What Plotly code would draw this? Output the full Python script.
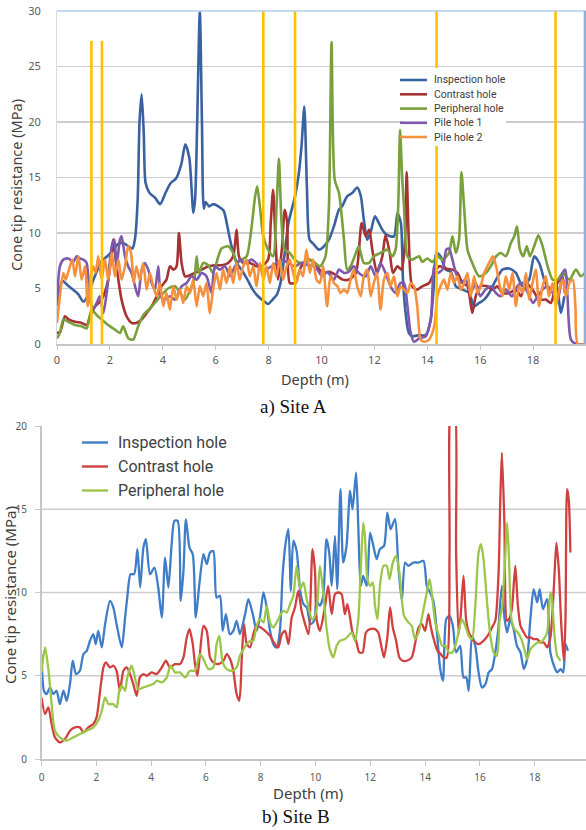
import plotly.graph_objects as go

W, H = 586, 830

# ---------------- Site A (depth m, cone tip resistance MPa) ----------------
a_inspection = [(0.0,3.5),(0.1,4.8),(0.2,5.7),(0.4,5.3),(0.6,4.9),(0.8,4.5),(1.0,3.8),(1.15,4.3),(1.3,5.3),
    (1.5,6.5),(1.7,7.5),(1.9,7.9),(2.1,8.4),(2.3,9.0),(2.5,9.1),(2.7,8.8),(2.85,8.6),(2.95,9.5),(3.05,13),
    (3.12,20),(3.2,22.5),(3.28,19),(3.35,14.5),(3.5,13.6),(3.7,13.2),(3.9,12.6),(4.1,13.6),(4.3,14.5),
    (4.5,14.9),(4.7,16.2),(4.85,18.0),(5.0,16.8),(5.1,13.5),(5.15,11.8),(5.22,13),(5.3,20),(5.4,30),
    (5.48,20),(5.55,12.2),(5.62,12.8),(5.75,12.4),(5.9,12.6),(6.1,12.4),(6.3,12.0),(6.45,10.5),(6.6,8.8),
    (6.8,7.3),(7.0,6.6),(7.2,5.8),(7.4,4.9),(7.6,4.3),(7.8,3.9),(7.98,3.6),(8.15,4.0),(8.3,4.4),(8.45,5.5),
    (8.6,8.0),(8.75,10.9),(9.0,13.3),(9.15,15.5),(9.25,18),(9.35,21.4),(9.45,14),(9.55,9.4),(9.7,9.0),
    (9.9,8.5),(10.05,8.7),(10.28,9.4),(10.47,10.6),(10.66,12.1),(10.78,12.4),(10.97,13.3),(11.16,13.6),
    (11.35,14.1),(11.48,13.4),(11.6,11.2),(11.73,9.4),(11.86,10.1),(12.02,11.5),(12.17,10.9),(12.3,10.3),
    (12.49,9.8),(12.74,9.7),(12.87,11.8),(13.0,10.9),(13.08,5.8),(13.18,2.8),(13.3,1.0),(13.43,0.7),
    (13.69,0.8),(13.94,0.8),(14.13,2.2),(14.26,5.8),(14.34,8.2),(14.5,7.9),(14.7,6.7),(14.89,6.5),
    (15.08,5.2),(15.33,4.9),(15.58,4.6),(15.77,3.4),(15.96,3.7),(16.15,4.0),(16.34,4.6),(16.6,5.8),
    (16.84,6.7),(17.1,6.8),(17.35,6.4),(17.6,5.2),(17.85,5.8),(18.04,7.9),(18.23,7.3),(18.42,5.8),
    (18.6,4.9),(18.86,5.5),(19.05,2.8),(19.18,4.3)]

a_contrast = [(0.0,1.0),(0.12,1.1),(0.3,2.5),(0.45,2.2),(0.68,2.0),(0.93,1.9),(1.12,1.7),(1.25,2.5),(1.44,3.4),
    (1.69,4.0),(1.94,5.8),(2.13,9.4),(2.2,8.0),(2.32,5.8),(2.44,4.0),(2.63,2.5),(2.82,1.9),(3.0,1.9),
    (3.2,2.2),(3.39,2.8),(3.58,3.4),(3.77,4.3),(3.95,5.2),(4.14,5.8),(4.27,7.0),(4.4,6.7),(4.52,7.0),
    (4.61,10.0),(4.71,7.3),(4.84,6.1),(5.03,6.2),(5.21,6.4),(5.47,6.7),(5.72,7.0),(5.97,7.1),(6.22,7.1),
    (6.47,7.3),(6.66,7.9),(6.79,10.3),(6.88,7.9),(7.04,7.3),(7.29,7.3),(7.54,7.0),(7.73,7.0),(7.98,7.6),
    (8.08,10.9),(8.17,13.9),(8.26,9.4),(8.36,5.8),(8.5,8.5),(8.61,12.1),(8.7,11.0),(8.8,5.5),(8.99,5.5),
    (9.24,7.0),(9.5,7.6),(9.75,7.3),(10.03,6.4),(10.3,6.5),(10.55,6.2),(10.8,5.8),(11.03,5.8),(11.3,6.4),
    (11.52,10.9),(11.67,9.7),(11.8,10.3),(11.92,8.5),(12.1,6.4),(12.3,7.9),(12.42,9.8),(12.58,8.2),
    (12.7,6.4),(12.87,7.0),(13.03,6.7),(13.16,9.4),(13.22,15.5),(13.3,9.4),(13.43,5.2),(13.62,4.9),
    (13.81,5.2),(14.07,5.5),(14.26,6.4),(14.45,7.0),(14.7,6.8),(14.95,6.7),(15.14,6.4),(15.33,5.5),
    (15.52,5.2),(15.7,2.8),(15.83,4.3),(16.0,5.2),(16.27,5.2),(16.46,4.9),(16.65,5.2),(16.84,4.6),
    (17.1,4.6),(17.35,4.9),(17.54,4.3),(17.73,5.5),(17.98,4.9),(18.23,4.0),(18.48,4.0),(18.67,3.7),
    (18.86,5.2),(19.1,6.1),(19.2,4.6)]

a_peripheral = [(0.0,0.5),(0.11,1.0),(0.24,2.2),(0.43,2.0),(0.68,1.7),(0.93,1.6),(1.12,1.4),(1.31,3.1),
    (1.5,2.6),(1.69,2.2),(1.94,1.7),(2.19,1.3),(2.38,1.0),(2.5,1.6),(2.7,0.5),(2.88,0.4),(3.07,1.6),
    (3.26,2.6),(3.51,3.2),(3.7,3.7),(3.95,4.4),(4.2,5.0),(4.46,5.2),(4.65,4.6),(4.84,4.0),(5.09,5.2),
    (5.2,6.0),(5.28,7.9),(5.36,6.4),(5.53,7.3),(5.72,7.1),(5.9,6.4),(6.1,7.9),(6.22,8.6),(6.47,8.8),
    (6.66,8.2),(6.79,7.3),(6.98,7.6),(7.17,7.9),(7.36,10.6),(7.49,13.3),(7.57,14.2),(7.67,12.4),(7.8,9.7),
    (7.98,8.5),(8.17,7.9),(8.3,12.4),(8.39,16.7),(8.49,10.9),(8.61,8.5),(8.8,8.2),(8.99,7.6),(9.24,7.3),
    (9.5,7.6),(9.75,7.3),(9.95,7.0),(10.15,7.9),(10.28,12.4),(10.38,27.2),(10.5,14.8),(10.66,13.6),
    (10.85,9.4),(10.97,6.7),(11.1,7.0),(11.3,8.2),(11.41,8.8),(11.6,7.3),(11.8,7.3),(11.98,7.9),
    (12.23,8.2),(12.49,8.5),(12.68,7.9),(12.8,8.5),(12.9,12.4),(12.97,19.3),(13.05,15),(13.12,12.4),
    (13.25,7.9),(13.43,7.6),(13.69,7.9),(13.81,7.4),(14.0,7.7),(14.19,7.4),(14.38,7.9),(14.57,7.6),
    (14.82,8.2),(14.95,9.7),(15.08,8.2),(15.2,9.4),(15.29,15.5),(15.39,12.4),(15.52,8.5),(15.7,7.3),
    (15.96,6.1),(16.21,6.4),(16.4,7.0),(16.6,7.9),(16.78,8.2),(16.97,7.9),(17.16,9.1),(17.29,9.7),
    (17.39,10.6),(17.5,8.5),(17.63,7.9),(17.76,8.8),(17.88,7.9),(18.04,8.8),(18.2,9.8),(18.36,8.8),
    (18.55,7.0),(18.74,5.8),(18.93,5.8),(19.12,6.4),(19.37,5.8),(19.62,6.7),(19.8,6.1),(20.0,6.5)]

a_pile1 = [(0.0,3.4),(0.11,7.0),(0.24,7.6),(0.43,7.7),(0.62,7.4),(0.74,7.9),(0.87,7.7),(1.0,7.6),(1.12,7.3),
    (1.25,4.0),(1.37,3.1),(1.5,3.7),(1.62,4.3),(1.75,2.8),(1.88,4.6),(2.07,8.8),(2.17,9.4),(2.25,7.0),
    (2.38,9.4),(2.44,9.7),(2.57,7.9),(2.69,7.0),(2.82,6.4),(2.95,5.2),(3.07,4.3),(3.2,6.7),(3.32,7.3),
    (3.45,6.7),(3.58,5.5),(3.7,4.9),(3.83,7.0),(3.93,4.3),(4.08,4.0),(4.27,4.3),(4.46,4.0),(4.71,5.2),
    (4.9,5.5),(5.09,6.1),(5.28,5.8),(5.47,6.4),(5.65,6.1),(5.84,4.6),(5.97,7.0),(6.16,6.7),(6.35,7.0),
    (6.54,6.1),(6.73,7.0),(6.92,7.6),(7.1,7.3),(7.36,7.6),(7.61,7.1),(7.86,6.7),(8.11,7.0),(8.3,7.3),
    (8.49,7.6),(8.74,7.3),(8.99,7.0),(9.24,7.3),(9.5,7.1),(9.75,7.0),(10.03,6.1),(10.22,6.5),(10.47,5.8),
    (10.66,6.7),(10.85,6.4),(11.03,6.5),(11.22,7.0),(11.41,6.4),(11.67,6.1),(11.86,7.0),(12.05,6.1),
    (12.23,7.3),(12.42,6.4),(12.61,5.2),(12.8,4.6),(12.99,5.5),(13.12,5.5),(13.25,3.4),(13.37,1.0),
    (13.5,0.2),(13.69,0.5),(13.94,0.7),(14.13,2.2),(14.26,7.0),(14.38,6.4),(14.57,6.7),(14.72,8.5),
    (14.82,8.6),(14.95,7.6),(15.08,6.4),(15.27,5.5),(15.45,5.8),(15.64,4.6),(15.83,5.5),(16.0,4.3),
    (16.2,4.9),(16.4,5.2),(16.59,4.6),(16.78,4.3),(16.97,4.9),(17.2,4.3),(17.4,5.2),(17.6,5.5),(17.8,4.6),
    (18.0,3.7),(18.17,4.3),(18.36,4.9),(18.55,5.2),(18.74,4.6),(18.93,4.0),(19.12,6.4),(19.22,6.7),
    (19.3,4.3),(19.43,0.4),(19.62,0.0),(20.0,0.0)]

a_pile2 = [(0.0,1.9),(0.11,4.3),(0.24,6.4),(0.33,5.8),(0.45,6.7),(0.58,7.6),(0.68,6.1),(0.81,7.9),(0.93,5.8),
    (1.06,7.0),(1.16,3.4),(1.26,5.8),(1.37,7.0),(1.46,6.4),(1.56,7.9),(1.69,5.8),(1.81,7.6),(1.94,5.8),
    (2.07,8.2),(2.19,6.1),(2.32,7.6),(2.44,5.8),(2.57,7.0),(2.69,8.8),(2.8,8.2),(2.9,5.5),(3.0,7.0),
    (3.13,5.8),(3.26,7.3),(3.39,4.9),(3.51,6.4),(3.64,5.2),(3.77,4.3),(3.89,5.5),(4.02,3.4),(4.14,4.6),
    (4.27,3.1),(4.4,5.2),(4.52,4.0),(4.65,4.9),(4.77,3.7),(4.9,5.2),(5.03,4.6),(5.15,5.8),(5.28,3.4),
    (5.4,5.2),(5.53,4.3),(5.65,5.5),(5.78,2.8),(5.9,4.9),(6.03,6.4),(6.16,4.9),(6.28,6.7),(6.41,5.5),
    (6.54,7.0),(6.66,5.5),(6.79,7.3),(6.91,5.8),(7.04,7.0),(7.17,7.6),(7.29,6.1),(7.42,7.0),(7.54,5.2),
    (7.67,7.3),(7.8,5.8),(7.92,7.0),(8.05,5.5),(8.17,7.3),(8.3,6.1),(8.42,7.6),(8.55,5.8),(8.68,7.0),
    (8.8,7.6),(8.93,6.4),(9.05,5.5),(9.18,6.7),(9.3,6.1),(9.43,8.5),(9.56,6.4),(9.68,7.6),(9.81,5.8),
    (9.94,5.5),(10.06,7.0),(10.21,3.4),(10.34,6.1),(10.47,5.5),(10.6,5.2),(10.72,4.6),(10.85,4.9),
    (10.97,4.6),(11.1,5.8),(11.22,6.7),(11.35,5.2),(11.48,4.3),(11.6,6.1),(11.73,6.7),(11.86,4.3),
    (11.98,5.5),(12.1,6.4),(12.23,3.1),(12.36,5.8),(12.49,6.4),(12.61,5.2),(12.74,6.1),(12.87,4.3),
    (12.99,5.2),(13.12,4.9),(13.25,4.6),(13.37,5.5),(13.5,5.2),(13.62,3.4),(13.75,0.4),(13.88,0.2),
    (14.07,0.4),(14.26,1.6),(14.38,4.3),(14.5,5.2),(14.63,5.8),(14.76,4.9),(14.89,6.4),(15.01,5.5),
    (15.14,6.1),(15.27,4.9),(15.39,5.5),(15.52,6.4),(15.64,4.3),(15.77,6.1),(15.9,4.6),(16.02,5.2),
    (16.15,6.4),(16.27,7.0),(16.4,7.6),(16.48,7.9),(16.6,7.0),(16.72,5.5),(16.84,4.3),(16.97,6.1),
    (17.1,4.9),(17.22,6.4),(17.35,3.4),(17.47,5.2),(17.6,4.6),(17.73,6.4),(17.85,4.0),(17.98,5.5),
    (18.1,6.7),(18.23,3.4),(18.36,5.2),(18.48,6.1),(18.6,4.3),(18.74,5.5),(18.86,3.4),(18.99,4.9),
    (19.12,5.8),(19.24,4.3),(19.37,5.5),(19.5,5.8),(19.6,3.4),(19.69,0.0),(20.0,0.0)]

# vertical marker lines (depth, top value)
marker_depth = [1.3, 1.7, 7.8, 9.0, 14.35, 18.85]
marker_top = [27.3, 27.3, 30, 30, 30, 30]

# ---------------- Site B ----------------
b_inspection = [(0.0,6.3),(0.09,4.1),(0.19,3.9),(0.31,4.3),(0.43,3.9),(0.55,4.1),(0.67,3.3),(0.8,4.1),(0.92,3.5),
    (1.04,4.5),(1.14,5.9),(1.26,5.1),(1.4,5.3),(1.53,6.3),(1.65,6.5),(1.77,7.1),(1.89,7.5),(1.98,6.9),
    (2.07,7.7),(2.2,6.7),(2.32,8.1),(2.5,9.5),(2.62,9.1),(2.74,8.1),(2.93,6.7),(3.05,8.5),(3.13,9.7),
    (3.25,11.1),(3.38,11.1),(3.5,12.6),(3.6,10.3),(3.72,12.7),(3.81,13.2),(3.96,11.1),(4.12,11.5),
    (4.26,10.3),(4.39,8.5),(4.51,12.1),(4.63,10.3),(4.75,12.9),(4.85,14.3),(4.97,14.3),(5.08,9.5),
    (5.18,11.3),(5.27,14.4),(5.4,12.7),(5.52,12.3),(5.63,8.5),(5.76,10.5),(5.91,12.3),(6.03,11.7),
    (6.15,12.4),(6.27,12.5),(6.39,9.7),(6.51,9.8),(6.61,7.7),(6.73,8.7),(6.87,7.5),(7.0,7.7),(7.12,8.3),
    (7.24,7.5),(7.43,8.7),(7.55,9.6),(7.71,8.7),(7.85,7.7),(7.97,8.5),(8.1,10.0),(8.22,9.1),(8.34,7.7),
    (8.46,6.9),(8.58,6.7),(8.7,7.7),(8.8,11.1),(8.92,13.1),(9.01,13.8),(9.1,10.1),(9.19,13.1),(9.31,12.5),
    (9.44,10.1),(9.56,9.3),(9.68,9.1),(9.82,8.1),(9.95,8.3),(10.04,9.5),(10.16,9.2),(10.28,9.8),
    (10.4,13.2),(10.5,12.4),(10.59,10.4),(10.71,13.4),(10.79,10.2),(10.91,16.2),(11.01,11.8),(11.13,12.8),
    (11.26,16.1),(11.35,15.0),(11.48,17.2),(11.56,14.0),(11.65,10.4),(11.74,11.0),(11.87,10.4),
    (11.99,13.6),(12.11,12.8),(12.23,12.0),(12.35,12.6),(12.5,12.8),(12.62,14.8),(12.74,13.8),(12.9,14.4),
    (13.02,11.6),(13.15,9.5),(13.27,11.8),(13.39,11.6),(13.57,11.8),(13.76,11.8),(13.94,11.9),(14.06,10.4),
    (14.18,10.0),(14.3,9.5),(14.43,7.6),(14.55,5.4),(14.65,4.7),(14.77,8.4),(14.89,8.6),(15.01,8.0),
    (15.13,6.4),(15.28,6.8),(15.4,4.9),(15.5,4.9),(15.59,4.1),(15.71,7.4),(15.83,6.8),(15.95,5.2),
    (16.07,4.3),(16.2,4.5),(16.32,5.2),(16.44,5.4),(16.56,6.4),(16.68,8.0),(16.8,10.4),(16.9,8.4),
    (16.99,7.6),(17.11,8.4),(17.23,7.8),(17.35,6.8),(17.48,6.4),(17.6,5.4),(17.72,6.0),(17.84,8.4),
    (17.96,10.2),(18.09,9.4),(18.18,10.2),(18.3,9.0),(18.45,9.6),(18.57,6.4),(18.7,5.6),(18.82,5.2),
    (18.94,5.4),(19.04,5.2),(19.12,6.9),(19.21,6.5)]

b_contrast = [(0.0,3.7),(0.13,2.7),(0.25,3.1),(0.37,2.1),(0.49,1.3),(0.67,1.0),(0.86,1.2),(1.04,1.7),(1.22,1.9),
    (1.4,1.9),(1.53,1.6),(1.71,1.9),(1.89,2.1),(2.01,2.5),(2.14,4.1),(2.26,5.5),(2.35,5.8),(2.5,5.5),
    (2.62,5.6),(2.74,5.3),(2.86,4.1),(2.99,5.3),(3.11,5.5),(3.23,5.1),(3.35,4.5),(3.47,3.8),(3.59,4.9),
    (3.72,5.1),(3.84,5.0),(4.02,5.2),(4.2,5.1),(4.39,5.5),(4.54,5.9),(4.69,5.5),(4.87,5.7),(5.05,5.7),
    (5.18,6.1),(5.3,7.3),(5.4,7.8),(5.52,6.9),(5.6,5.7),(5.69,5.0),(5.78,6.3),(5.91,8.0),(6.03,7.7),
    (6.15,6.1),(6.27,5.8),(6.45,5.7),(6.64,5.9),(6.76,6.3),(6.88,6.0),(7.0,5.3),(7.12,3.9),(7.22,3.5),
    (7.31,6.1),(7.39,8.1),(7.49,6.9),(7.61,6.7),(7.73,7.5),(7.85,8.0),(8.0,7.9),(8.16,7.7),(8.34,7.4),
    (8.52,6.9),(8.64,6.7),(8.77,7.5),(8.89,7.7),(9.01,6.9),(9.13,8.5),(9.25,9.1),(9.37,10.1),(9.49,8.9),
    (9.62,8.1),(9.74,7.5),(9.89,12.6),(9.98,11.3),(10.04,8.4),(10.16,7.7),(10.34,9.1),(10.46,10.4),
    (10.59,8.7),(10.71,9.9),(10.83,10.0),(10.95,9.9),(11.07,8.7),(11.16,9.3),(11.26,8.5),(11.35,7.6),
    (11.48,7.1),(11.6,6.4),(11.72,6.4),(11.84,7.6),(11.99,7.8),(12.17,7.8),(12.29,7.6),(12.41,6.7),
    (12.5,6.1),(12.62,7.3),(12.72,9.1),(12.82,7.9),(12.94,7.1),(13.06,6.1),(13.18,5.9),(13.33,5.9),
    (13.51,6.1),(13.63,6.9),(13.76,7.9),(13.88,8.1),(14.0,7.7),(14.12,8.7),(14.21,7.9),(14.33,7.1),
    (14.45,6.5),(14.57,6.3),(14.67,6.1),(14.79,6.1),(14.89,12.4),(14.96,21.5),(15.06,21.5),(15.13,12.4),
    (15.22,7.5),(15.3,8.7),(15.4,11.0),(15.5,8.3),(15.62,7.5),(15.77,7.1),(15.95,6.9),(16.13,7.1),
    (16.32,7.5),(16.44,7.9),(16.56,8.3),(16.68,11.2),(16.74,15.4),(16.8,18.4),(16.89,14.3),(16.99,8.3),
    (17.09,8.5),(17.17,9.1),(17.29,11.6),(17.38,9.3),(17.48,8.0),(17.6,7.6),(17.72,7.3),(17.84,7.3),
    (17.96,7.2),(18.09,7.2),(18.21,7.0),(18.33,7.0),(18.45,6.7),(18.57,7.3),(18.7,10.4),(18.79,13.0),
    (18.88,11.3),(18.96,8.3),(19.06,5.9),(19.12,8.3),(19.18,16.2),(19.24,15.6),(19.3,12.4)]

b_peripheral = [(0.0,5.2),(0.13,6.7),(0.25,5.4),(0.37,3.3),(0.49,1.7),(0.67,1.3),(0.92,1.1),(1.16,1.3),(1.4,1.5),
    (1.65,1.7),(1.89,1.9),(2.07,2.3),(2.2,2.9),(2.32,3.7),(2.44,3.3),(2.62,3.3),(2.74,3.1),(2.84,4.1),
    (2.93,4.4),(3.05,4.1),(3.13,4.9),(3.29,5.6),(3.41,4.9),(3.53,4.2),(3.72,4.3),(3.9,4.4),(4.08,4.5),
    (4.2,4.7),(4.39,4.6),(4.57,4.9),(4.71,5.6),(4.87,5.2),(5.05,5.2),(5.24,4.9),(5.42,5.3),(5.6,5.3),
    (5.78,6.3),(5.91,6.0),(6.09,5.4),(6.27,5.5),(6.39,6.9),(6.49,7.4),(6.61,5.8),(6.76,5.4),(6.95,5.3),
    (7.12,5.5),(7.24,6.2),(7.37,6.6),(7.49,6.9),(7.61,7.1),(7.73,7.1),(7.85,8.0),(7.97,8.4),(8.1,8.2),
    (8.22,9.2),(8.34,8.2),(8.46,7.9),(8.58,8.2),(8.7,8.6),(8.83,8.9),(8.95,8.8),(9.07,9.3),(9.19,9.8),
    (9.31,11.6),(9.44,10.2),(9.56,10.6),(9.68,9.6),(9.86,8.4),(9.91,8.4),(10.04,9.0),(10.16,11.6),
    (10.28,10.0),(10.4,7.9),(10.52,6.6),(10.65,6.1),(10.77,6.8),(10.89,7.1),(11.07,7.2),(11.2,7.4),
    (11.32,7.6),(11.44,7.1),(11.56,8.4),(11.65,11.4),(11.74,14.2),(11.8,13.4),(11.89,10.9),(11.99,10.4),
    (12.09,10.6),(12.17,9.2),(12.26,8.4),(12.35,10.4),(12.48,11.6),(12.6,11.6),(12.7,10.8),(12.82,11.8),
    (12.94,12.2),(13.06,11.2),(13.15,9.6),(13.23,8.6),(13.39,8.2),(13.51,8.0),(13.63,7.2),(13.76,7.6),
    (13.94,9.0),(14.06,10.0),(14.16,10.8),(14.24,10.0),(14.37,8.2),(14.5,7.4),(14.62,6.8),(14.74,6.8),
    (14.87,6.4),(14.99,6.4),(15.1,6.8),(15.22,7.6),(15.34,8.4),(15.46,8.0),(15.59,7.4),(15.71,7.2),
    (15.83,9.2),(15.95,12.4),(16.04,12.9),(16.13,12.0),(16.26,9.4),(16.38,7.4),(16.5,6.4),(16.62,6.2),
    (16.72,8.4),(16.8,9.0),(16.9,11.4),(16.99,14.2),(17.06,12.0),(17.15,8.4),(17.26,7.8),(17.38,7.6),
    (17.51,7.2),(17.62,6.6),(17.72,6.0),(17.84,6.6),(17.96,6.8),(18.09,7.0),(18.21,7.0),(18.33,7.2),
    (18.45,7.6),(18.57,10.0),(18.63,9.6),(18.72,7.4),(18.82,6.2),(18.94,5.9)]

names_a = ["Inspection hole", "Contrast hole", "Peripheral hole", "Pile hole 1", "Pile hole 2"]
names_b = ["Inspection hole", "Contrast hole", "Peripheral hole"]
colors_a = ["#3A62A0", "#A63232", "#78A03C", "#7E59AE", "#F5913E"]
colors_b = ["#3F7DC8", "#D0403F", "#9CC64A"]
marker_color = "#FFC000"

x_ticks_a = list(range(0, 21, 2))
y_ticks_a = list(range(0, 31, 5))
x_ticks_b = list(range(0, 21, 2))
y_ticks_b = list(range(0, 21, 5))


def px(x):
    return x / W


def py(y):
    return 1 - y / H


fig = go.Figure()

for data, name, col in zip([a_inspection, a_contrast, a_peripheral, a_pile1, a_pile2], names_a, colors_a):
    d, v = zip(*data)
    fig.add_trace(go.Scatter(x=list(d), y=list(v), mode="lines", name=name, showlegend=False,
                             line=dict(color=col, width=2.6, shape="spline", smoothing=0.7),
                             xaxis="x", yaxis="y", hoverinfo="skip"))

mx, my = [], []
for d, t in zip(marker_depth, marker_top):
    mx += [d, d, None]
    my += [0, t, None]
fig.add_trace(go.Scatter(x=mx, y=my, mode="lines", showlegend=False, hoverinfo="skip",
                         line=dict(color=marker_color, width=2.6), xaxis="x", yaxis="y"))

for data, name, col in zip([b_inspection, b_contrast, b_peripheral], names_b, colors_b):
    d, v = zip(*data)
    fig.add_trace(go.Scatter(x=list(d), y=list(v), mode="lines", name=name, showlegend=False,
                             line=dict(color=col, width=2.3, shape="spline", smoothing=0.7),
                             xaxis="x2", yaxis="y2", hoverinfo="skip"))

tick_font = dict(family="Noto Sans, Open Sans, sans-serif", size=11, color="#595959")
grid_col = "#cdcdcd"
axis_col = "#c6c6c6"

fig.update_layout(
    width=W, height=H, margin=dict(l=0, r=0, t=0, b=0, autoexpand=False),
    paper_bgcolor="white", plot_bgcolor="white", showlegend=False,
    xaxis=dict(domain=[px(57), 1.0], range=[0, 20], tickvals=x_ticks_a, showgrid=False, zeroline=False,
               showline=True, linecolor=axis_col, linewidth=1.5, ticks="outside", ticklen=4,
               tickcolor=axis_col, tickfont=tick_font, anchor="y", ticklabelstandoff=1, automargin=False),
    yaxis=dict(domain=[py(344), py(11)], range=[0, 30], tickvals=y_ticks_a, showgrid=True,
               gridcolor=grid_col, gridwidth=1.5, zeroline=False, showline=True, linecolor="#dadada",
               linewidth=1, ticks="", tickfont=tick_font, anchor="x", ticklabelstandoff=13, automargin=False),
    xaxis2=dict(domain=[px(41.5), 1.0], range=[0, 19.87], tickvals=x_ticks_b, showgrid=False, zeroline=False,
                showline=True, linecolor=axis_col, linewidth=1.5, ticks="outside", ticklen=5,
                tickcolor=axis_col, tickfont=dict(tick_font, size=10), anchor="y2", ticklabelstandoff=3,
                automargin=False),
    yaxis2=dict(domain=[py(759), py(426)], range=[0, 20], tickvals=y_ticks_b, showgrid=False,
                zeroline=False, showline=True, linecolor=axis_col, linewidth=1.5, ticks="outside",
                ticklen=5, tickcolor=axis_col, tickfont=dict(tick_font, size=10), anchor="x2",
                ticklabelstandoff=6, automargin=False),
)

shapes = []
# gridlines of the Site B panel (none at the top value)
for v in [5, 10, 15]:
    shapes.append(dict(type="line", xref="x2 domain", x0=0, x1=1, yref="y2", y0=v, y1=v,
                       line=dict(color=grid_col, width=1.5), layer="below"))
# light blue frame of the Site A plot area (top and right)
shapes.append(dict(type="line", xref="x domain", x0=0, x1=1, yref="y domain", y0=1, y1=1,
                   line=dict(color="#b4cde8", width=1.5)))
shapes.append(dict(type="line", xref="x domain", x0=0.998, x1=0.998, yref="y domain", y0=0, y1=1,
                   line=dict(color="#8fb0dc", width=2.5)))

# Site A legend (white box, line samples)
shapes.append(dict(type="rect", xref="paper", yref="paper", x0=px(404), x1=px(506), y0=py(146), y1=py(68),
                   fillcolor="white", line=dict(width=0), layer="above"))
row_y_a = [80, 94.3, 108.6, 122.8, 137]
for ry, col in zip(row_y_a, colors_a):
    shapes.append(dict(type="line", xref="paper", yref="paper", x0=px(400), x1=px(427), y0=py(ry), y1=py(ry),
                       line=dict(color=col, width=2.6), layer="above"))
row_y_b = [442.5, 466.5, 490.5]
for ry, col in zip(row_y_b, colors_b):
    shapes.append(dict(type="line", xref="paper", yref="paper", x0=px(82), x1=px(108), y0=py(ry), y1=py(ry),
                       line=dict(color=col, width=2.4), layer="above"))
fig.update_layout(shapes=shapes)

ann = []
leg_font_a = dict(family="Roboto, Noto Sans, sans-serif", size=10.5, color="#404040")
for ry, name in zip(row_y_a, names_a):
    ann.append(dict(xref="paper", yref="paper", x=px(432), y=py(ry), text=name, showarrow=False,
                    xanchor="left", yanchor="middle", font=leg_font_a))
leg_font_b = dict(family="Roboto, Noto Sans, sans-serif", size=16, color="#404040")
for ry, name in zip(row_y_b, names_b):
    ann.append(dict(xref="paper", yref="paper", x=px(116), y=py(ry), text=name, showarrow=False,
                    xanchor="left", yanchor="middle", font=leg_font_b))

title_font = dict(family="Noto Sans, Open Sans, sans-serif", size=14.5, color="#404040")
ann.append(dict(xref="paper", yref="paper", x=px(315), y=py(379), text="Depth (m)", showarrow=False,
                xanchor="center", yanchor="middle", font=title_font))
ann.append(dict(xref="paper", yref="paper", x=px(16), y=py(185), text="Cone tip resistance (MPa)",
                showarrow=False, textangle=-90, xanchor="center", yanchor="middle", font=title_font))
ann.append(dict(xref="paper", yref="paper", x=px(308), y=py(793), text="Depth (m)", showarrow=False,
                xanchor="center", yanchor="middle", font=dict(title_font, size=15)))
ann.append(dict(xref="paper", yref="paper", x=px(10), y=py(595), text="Cone tip resistance (MPa)",
                showarrow=False, textangle=-90, xanchor="center", yanchor="middle", font=dict(title_font, size=15)))

cap_font = dict(family="Liberation Serif, Times New Roman, serif", size=19, color="#111111")
ann.append(dict(xref="paper", yref="paper", x=px(293), y=py(407), text="a) Site A", showarrow=False,
                xanchor="center", yanchor="middle", font=cap_font))
ann.append(dict(xref="paper", yref="paper", x=px(296), y=py(817), text="b) Site B", showarrow=False,
                xanchor="center", yanchor="middle", font=cap_font))
fig.update_layout(annotations=ann)

fig.write_html("out.html", config={"displayModeBar": False, "staticPlot": True},
               post_script="document.body.style.margin='0px';document.body.style.padding='0px';document.body.style.overflow='hidden';")
